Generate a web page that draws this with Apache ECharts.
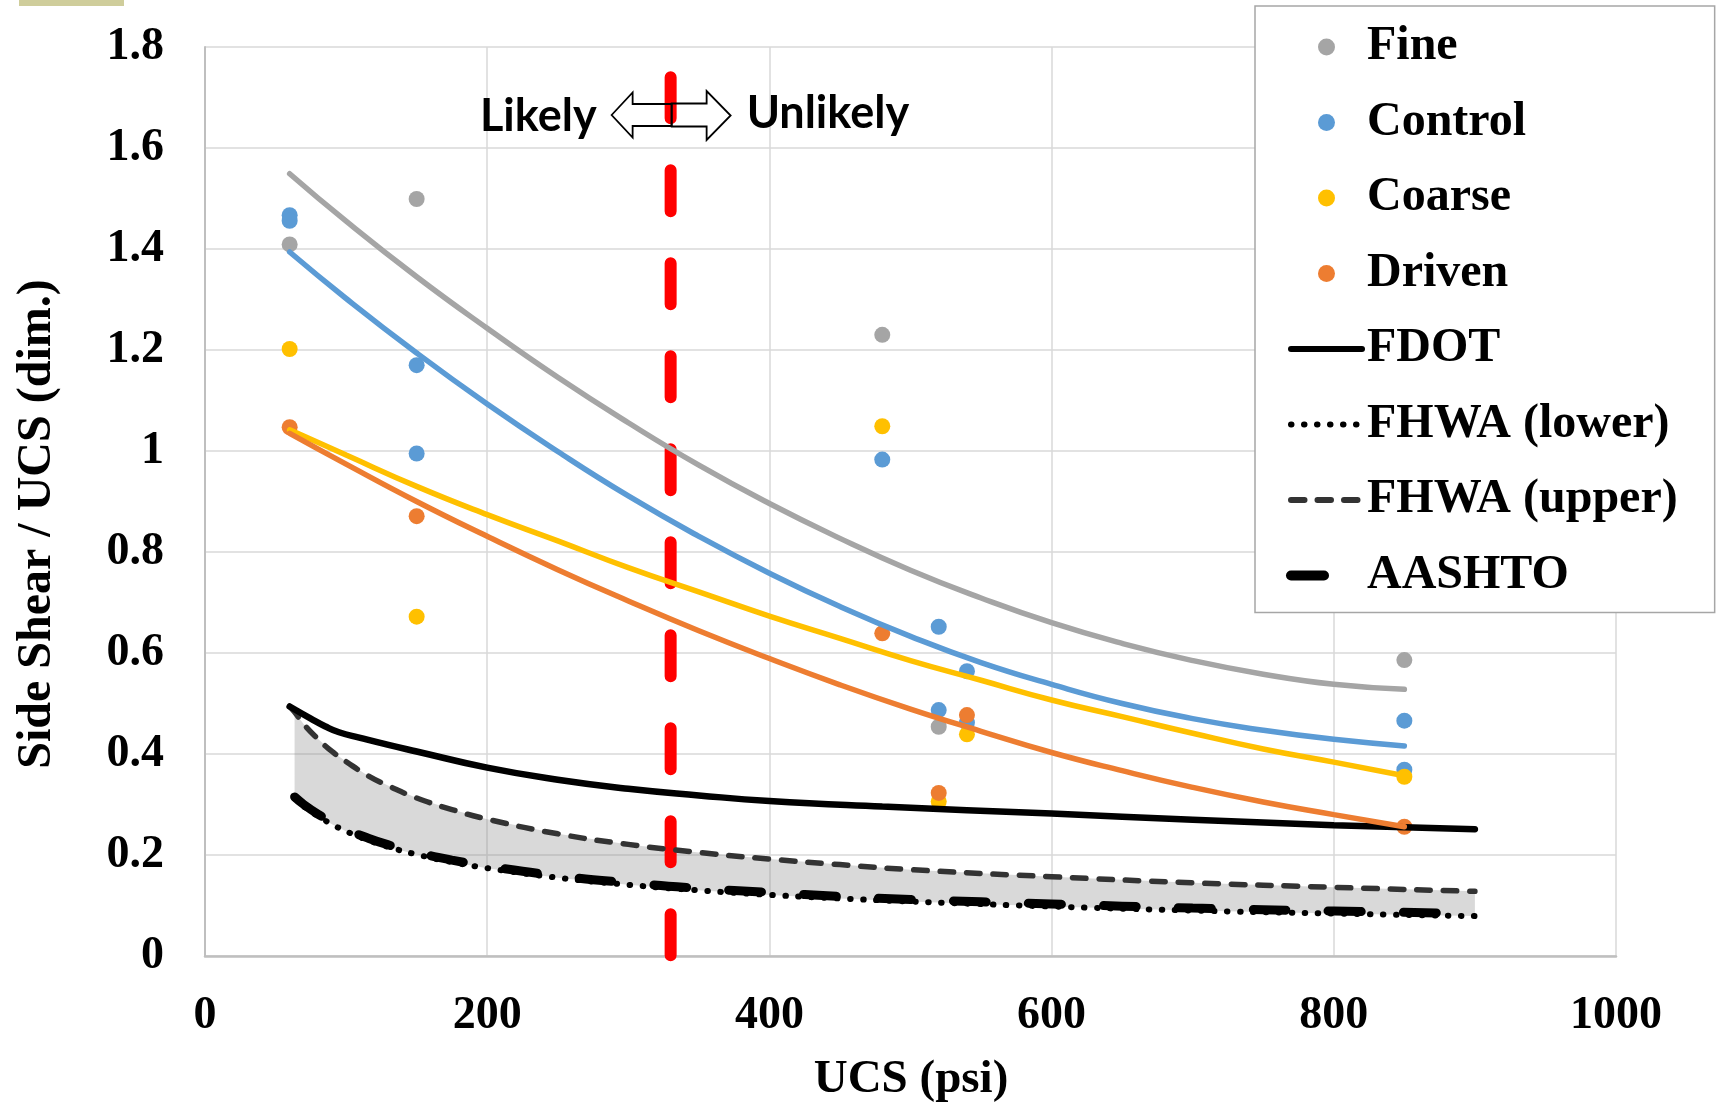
<!DOCTYPE html>
<html>
<head>
<meta charset="utf-8">
<title>Side Shear / UCS vs UCS</title>
<script src="https://cdn.jsdelivr.net/npm/echarts@6/dist/echarts.min.js"></script>
<style>
  html, body { margin: 0; padding: 0; background: #ffffff; }
  #chart { width: 1716px; height: 1103px; }
</style>
</head>
<body>
<div id="chart"></div>
<script>
// ---- measured ratios (side shear / UCS) by shaft type ----
const fineData    = [[60, 1.409], [150, 1.499], [480, 1.230], [520, 0.454], [850, 0.586]];
const controlData = [[60, 1.467], [60, 1.456], [150, 1.170], [150, 0.995], [480, 0.983],
                     [520, 0.652], [520, 0.487], [540, 0.564], [540, 0.462], [850, 0.466], [850, 0.369]];
const coarseData  = [[60, 1.202], [150, 0.672], [480, 1.049], [520, 0.306], [540, 0.439], [850, 0.355]];
const drivenData  = [[60, 1.047], [150, 0.871], [480, 0.639], [520, 0.323], [540, 0.477], [850, 0.256]];

// ---- fitted trend curves for each group ----
const trendX       = [60, 100, 150, 200, 250, 300, 350, 400, 450, 500, 550, 600, 650, 700, 750, 800, 850];
const fineTrend    = [1.549, 1.455, 1.345, 1.243, 1.146, 1.056, 0.972, 0.896, 0.827, 0.764, 0.709, 0.660, 0.619, 0.585, 0.558, 0.538, 0.528];
const controlTrend = [1.394, 1.302, 1.194, 1.093, 0.999, 0.911, 0.831, 0.758, 0.692, 0.633, 0.581, 0.538, 0.500, 0.470, 0.447, 0.429, 0.416];
const coarseTrend  = [1.042, 0.992, 0.930, 0.874, 0.822, 0.769, 0.721, 0.673, 0.629, 0.585, 0.546, 0.507, 0.474, 0.441, 0.410, 0.384, 0.357];
const drivenTrend  = [1.035, 0.974, 0.900, 0.831, 0.765, 0.703, 0.644, 0.589, 0.537, 0.489, 0.445, 0.403, 0.367, 0.334, 0.305, 0.280, 0.256];

// ---- design method curves ----
const fdotX = [60, 75, 85, 95, 110, 130, 150, 200, 250, 300, 350, 400, 480, 600, 700, 800, 900];
const fdotY = [0.494, 0.470, 0.455, 0.443, 0.432, 0.418, 0.405, 0.373, 0.349, 0.331, 0.318, 0.307, 0.296, 0.282, 0.270, 0.259, 0.251];

const upperX    = [60, 63.5, 70, 80, 90, 100, 115, 130, 150, 175, 200, 250, 300, 350, 400, 450, 500, 600, 700, 800, 900];
const fhwaUpper = [0.494, 0.483, 0.459, 0.430, 0.405, 0.385, 0.358, 0.337, 0.313, 0.290, 0.271, 0.242, 0.221, 0.205, 0.192, 0.181, 0.171, 0.157, 0.145, 0.136, 0.128];

const lowerX    = [63.5, 70, 80, 90, 100, 115, 130, 150, 175, 200, 250, 300, 350, 400, 450, 500, 600, 700, 800, 900];
const fhwaLower = [0.312, 0.296, 0.277, 0.261, 0.247, 0.230, 0.216, 0.201, 0.186, 0.174, 0.155, 0.141, 0.130, 0.121, 0.114, 0.108, 0.098, 0.090, 0.084, 0.079];
const aashto    = [0.315, 0.300, 0.281, 0.265, 0.251, 0.234, 0.220, 0.205, 0.190, 0.178, 0.159, 0.145, 0.134, 0.126, 0.118, 0.112, 0.103, 0.095, 0.089, 0.084];

// ---- "likely / unlikely" boundary ----
const boundaryUcs   = 330;
const boundaryRange = [1.74, 0];

// ---- axes ----
const xTicks = { min: 0, max: 1000, interval: 200 };
const yTicks = { min: 0, max: 1.8, interval: 0.2 };

const COLORS = { fine: '#a5a5a5', control: '#5b9bd5', coarse: '#ffc000', driven: '#ed7d31' };
const SERIF = '"Liberation Serif", "Times New Roman", serif';

const pairs = (xs, ys) => xs.map((x, i) => [x, ys[i]]);

const trendSeries = (name, ys, color) => ({
  name, type: 'line', data: pairs(trendX, ys), smooth: true, symbol: 'none',
  itemStyle: { color }, lineStyle: { color, width: 5.5, cap: 'round' }, silent: true
});
const scatterSeries = (name, data, color) => ({
  name, type: 'scatter', data, symbolSize: 16, itemStyle: { color, opacity: 1 }
});
const designSeries = (name, xs, ys, color, lineStyle) => ({
  name, type: 'line', data: pairs(xs, ys), smooth: true, symbol: 'none', silent: true,
  itemStyle: { color }, lineStyle: Object.assign({ color, cap: 'round' }, lineStyle)
});
const legendLine = (name, lineStyle) => ({
  name, itemStyle: { opacity: 0 }, lineStyle: Object.assign({ cap: 'round' }, lineStyle)
});

const chart = echarts.init(document.getElementById('chart'), null, { renderer: 'canvas' });

const option = {
  animation: false,
  backgroundColor: '#ffffff',
  grid: { left: 205, right: 100, top: 47, bottom: 147, containLabel: false },
  xAxis: {
    type: 'value', min: xTicks.min, max: xTicks.max, interval: xTicks.interval,
    axisLine: { show: true, onZero: false, lineStyle: { color: '#bfbfbf', width: 2.5 } },
    axisTick: { show: false },
    splitLine: { show: true, lineStyle: { color: '#d9d9d9', width: 1.5 } },
    axisLabel: { margin: 37, color: '#000', fontFamily: SERIF, fontWeight: 'bold', fontSize: 46,
                 formatter: v => String(v) }
  },
  yAxis: {
    type: 'value', min: yTicks.min, max: yTicks.max, interval: yTicks.interval,
    axisLine: { show: true, lineStyle: { color: '#bfbfbf', width: 2 } },
    axisTick: { show: false },
    splitLine: { show: true, lineStyle: { color: '#d9d9d9', width: 1.5 } },
    axisLabel: { margin: 41, color: '#000', fontFamily: SERIF, fontWeight: 'bold', fontSize: 46 }
  },
  legend: {
    orient: 'vertical', left: 1255, top: 6,
    itemWidth: 71, itemHeight: 17, itemGap: 27.5,
    padding: [17, 37, 13, 31],
    backgroundColor: '#ffffff', borderColor: '#a6a6a6', borderWidth: 1.5,
    selectedMode: false,
    textStyle: { color: '#000', fontFamily: SERIF, fontWeight: 'bold', fontSize: 48 },
    data: [
      { name: 'Fine' }, { name: 'Control' }, { name: 'Coarse' }, { name: 'Driven' },
      legendLine('FDOT', { width: 6 }),
      legendLine('FHWA (lower)', { width: 6, type: [0.5, 12.5] }),
      legendLine('FHWA (upper)', { width: 6, type: [13.5, 13] }),
      legendLine('AASHTO', { width: 10, type: [33, 42] })
    ]
  },
  series: [
    {
      name: 'Boundary', type: 'line', symbol: 'none', silent: true,
      data: boundaryRange.map(v => [boundaryUcs, v]),
      lineStyle: { color: '#ff0000', width: 12, type: [41, 52], cap: 'round' }
    },
    {
      // shaded range between the FHWA lower and upper bounds
      name: 'FHWA band', type: 'custom', silent: true, data: [[0, 0]],
      renderItem: (params, api) => {
        const top = lowerX.map(x => api.coord([x, fhwaUpper[upperX.indexOf(x)]]));
        const bottom = lowerX.map((x, i) => api.coord([x, fhwaLower[i]])).reverse();
        return {
          type: 'polygon',
          shape: { points: top.concat(bottom) },
          style: { fill: 'rgba(140,140,140,0.33)' }
        };
      }
    },
    designSeries('FHWA (upper)', upperX, fhwaUpper, '#333333', { width: 5.5, type: [13.5, 13] }),
    designSeries('FHWA (lower)', lowerX, fhwaLower, '#000000', { width: 6, type: [0.5, 12.5] }),
    designSeries('AASHTO', lowerX, aashto, '#000000', { width: 9, type: [33, 42] }),
    designSeries('FDOT', fdotX, fdotY, '#000000', { width: 6.5 }),
    trendSeries('Fine trend', fineTrend, COLORS.fine),
    trendSeries('Control trend', controlTrend, COLORS.control),
    trendSeries('Coarse trend', coarseTrend, COLORS.coarse),
    trendSeries('Driven trend', drivenTrend, COLORS.driven),
    scatterSeries('Fine', fineData, COLORS.fine),
    scatterSeries('Control', controlData, COLORS.control),
    scatterSeries('Coarse', coarseData, COLORS.coarse),
    scatterSeries('Driven', drivenData, COLORS.driven)
  ]
};

chart.setOption(option);

// annotation anchored on the boundary line
const cx = chart.convertToPixel({ gridIndex: 0 }, [boundaryUcs, 0])[0];
const arrowStyle = { fill: 'rgba(0,0,0,0)', stroke: '#000', lineWidth: 1.8, lineJoin: 'miter' };
const ANNOT_FONT = 'bold 45px Lato, "Open Sans", sans-serif';

chart.setOption({
  graphic: [
    { type: 'rect', z: 100, shape: { x: 19, y: 0, width: 105, height: 6 }, style: { fill: '#cfcd9b' } },
    {
      type: 'text', z: 100, x: 38, y: 524, rotation: Math.PI / 2,
      style: { text: 'Side Shear / UCS (dim.)', font: 'bold 48px ' + SERIF, fill: '#000',
               textAlign: 'center', verticalAlign: 'middle' }
    },
    {
      type: 'text', z: 100, x: 911, y: 1080,
      style: { text: 'UCS (psi)', font: 'bold 47px ' + SERIF, fill: '#000',
               textAlign: 'center', verticalAlign: 'middle' }
    },
    {
      type: 'polygon', z: 100,
      shape: { points: [[cx - 59, 115], [cx - 38, 92.5], [cx - 38, 104], [cx + 1, 104],
                        [cx + 1, 126], [cx - 38, 126], [cx - 38, 137.5]] },
      style: arrowStyle
    },
    {
      type: 'polygon', z: 101,
      shape: { points: [[cx + 1, 103.5], [cx + 36, 103.5], [cx + 36, 91], [cx + 60, 115.5],
                        [cx + 36, 140], [cx + 36, 126.5], [cx + 1, 126.5]] },
      style: arrowStyle
    },
    {
      type: 'text', z: 100, x: cx - 74, y: 116,
      style: { text: 'Likely', font: ANNOT_FONT, fill: '#000', textAlign: 'right', verticalAlign: 'middle' }
    },
    {
      type: 'text', z: 100, x: cx + 76, y: 113,
      style: { text: 'Unlikely', font: ANNOT_FONT, fill: '#000', textAlign: 'left', verticalAlign: 'middle' }
    }
  ]
});
</script>
</body>
</html>
